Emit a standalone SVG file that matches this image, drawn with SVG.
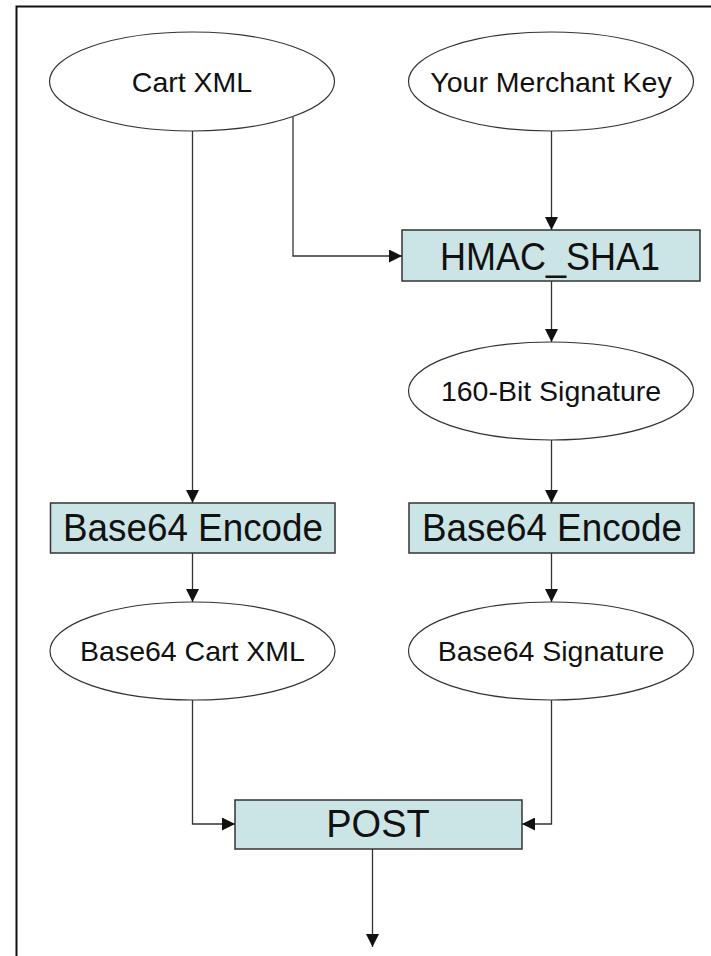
<svg xmlns="http://www.w3.org/2000/svg" width="711" height="956" viewBox="0 0 711 956">
<style>
.ell{fill:#fff;stroke:#333;stroke-width:1.2}
.box{fill:#cbe5e7;stroke:#333;stroke-width:1.5}
.t{font-family:"Liberation Sans",Arial,sans-serif;fill:#111;text-anchor:middle}
.s{font-size:28.5px}
.b{font-size:38px}
.c{fill:none;stroke:#333;stroke-width:1.3}
</style>
<defs>
<marker id="ah" viewBox="0 0 13 13" refX="13" refY="6.5" markerWidth="13" markerHeight="13" markerUnits="userSpaceOnUse" orient="auto">
<path d="M0,0 L13,6.5 L0,13 Z" fill="#111"/>
</marker>
</defs>
<rect x="0" y="0" width="711" height="956" fill="#fff"/>
<path d="M16.5,956 V6.5 H711" fill="none" stroke="#111" stroke-width="2"/>
<g id="connectors">
<path class="c" d="M192.5,131 V503" marker-end="url(#ah)"/>
<path class="c" d="M293,117 V256 H402" marker-end="url(#ah)"/>
<path class="c" d="M551.5,131 V230" marker-end="url(#ah)"/>
<path class="c" d="M551.5,281 V342" marker-end="url(#ah)"/>
<path class="c" d="M551.5,440 V503" marker-end="url(#ah)"/>
<path class="c" d="M192.5,553 V602" marker-end="url(#ah)"/>
<path class="c" d="M551.5,553 V602" marker-end="url(#ah)"/>
<path class="c" d="M192.5,700 V824 H235" marker-end="url(#ah)"/>
<path class="c" d="M551.5,700 V824 H522" marker-end="url(#ah)"/>
<path class="c" d="M372.5,849 V947" marker-end="url(#ah)"/>
</g>
<g id="cart-xml">
<ellipse class="ell" cx="192" cy="81.5" rx="142.5" ry="49.5"/>
<text class="t s" x="192" y="92">Cart XML</text>
</g>
<g id="merchant-key">
<ellipse class="ell" cx="551" cy="81.5" rx="142.5" ry="49.5"/>
<text class="t s" x="551" y="92">Your Merchant Key</text>
</g>
<g id="hmac">
<rect class="box" x="402" y="230" width="298" height="51"/>
<text class="t b" x="550" y="270" textLength="220" lengthAdjust="spacingAndGlyphs" font-size="41">HMAC_SHA1</text>
</g>
<g id="signature">
<ellipse class="ell" cx="551" cy="391" rx="142.5" ry="49"/>
<text class="t s" x="551" y="401">160-Bit Signature</text>
</g>
<g id="encode-left">
<rect class="box" x="50.5" y="503" width="284.5" height="50"/>
<text class="t b" x="193" y="541" textLength="260" lengthAdjust="spacingAndGlyphs">Base64 Encode</text>
</g>
<g id="encode-right">
<rect class="box" x="409" y="503" width="285" height="50"/>
<text class="t b" x="552" y="541" textLength="260" lengthAdjust="spacingAndGlyphs">Base64 Encode</text>
</g>
<g id="b64-cart">
<ellipse class="ell" cx="192.5" cy="651" rx="142.5" ry="49"/>
<text class="t s" x="192.5" y="661">Base64 Cart XML</text>
</g>
<g id="b64-sig">
<ellipse class="ell" cx="551" cy="651" rx="142.5" ry="49"/>
<text class="t s" x="551" y="661">Base64 Signature</text>
</g>
<g id="post">
<rect class="box" x="235" y="800" width="287" height="49"/>
<text class="t b" x="378" y="837">POST</text>
</g>
</svg>
